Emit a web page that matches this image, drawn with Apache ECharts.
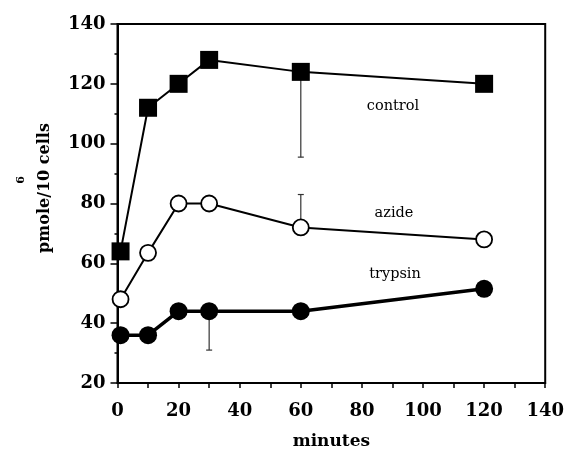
<!DOCTYPE html>
<html>
<head>
<meta charset="utf-8">
<script src="https://cdn.jsdelivr.net/npm/echarts@6/dist/echarts.min.js"></script>
<style>
  html, body { margin: 0; padding: 0; background: #fff; }
  #chart { width: 567px; height: 455px; }
</style>
</head>
<body>
<div id="chart"></div>
<script>
// Time points (minutes)
var minutes = [1, 10, 20, 30, 60, 120];

// Binding, pmole / 10^6 cells
var control = [64, 112, 120, 128, 124, 120];
var azide   = [48, 63.5, 80, 80, 72, 68];
var trypsin = [36, 36, 44, 44, 44, 51.5];

// Error bars: [minute, mean, bar end]
var controlErr = [[60, 124, 95.5]];
var azideErr   = [[60, 72, 83]];
var trypsinErr = [[30, 44, 31]];

var xTicks = [0, 20, 40, 60, 80, 100, 120, 140];
var yTicks = [20, 40, 60, 80, 100, 120, 140];

function pairs(xs, ys) {
  return xs.map(function (x, i) { return [x, ys[i]]; });
}

var SERIF = '"DejaVu Serif", serif';

function errorBars(data) {
  return {
    type: 'custom',
    z: 1,
    silent: true,
    data: data,
    renderItem: function (params, api) {
      var p0 = api.coord([api.value(0), api.value(1)]);
      var p1 = api.coord([api.value(0), api.value(2)]);
      var cap = 3;
      return {
        type: 'group',
        children: [
          { type: 'line', shape: { x1: p0[0], y1: p0[1], x2: p1[0], y2: p1[1] },
            style: { stroke: '#333', lineWidth: 1.2 } },
          { type: 'line', shape: { x1: p1[0] - cap, y1: p1[1], x2: p1[0] + cap, y2: p1[1] },
            style: { stroke: '#333', lineWidth: 1.2 } }
        ]
      };
    }
  };
}

var chart = echarts.init(document.getElementById('chart'), null, { renderer: 'canvas' });

chart.setOption({
  animation: false,
  backgroundColor: '#fff',
  grid: {
    left: 117.5, right: 19.5, top: 24, bottom: 66.5,
    show: true, borderColor: '#000', borderWidth: 2, backgroundColor: 'transparent'
  },
  xAxis: {
    type: 'value',
    min: xTicks[0], max: xTicks[xTicks.length - 1], interval: 20,
    name: 'minutes', nameLocation: 'middle', nameGap: 50,
    nameTextStyle: { fontFamily: SERIF, fontWeight: 'bold', fontSize: 17, color: '#000' },
    axisLine: { show: true, lineStyle: { color: '#000', width: 2 } },
    axisTick: { show: true, length: 5, lineStyle: { color: '#000', width: 1.5 } },
    minorTick: { show: true, splitNumber: 2, length: 5, lineStyle: { color: '#000', width: 1.5 } },
    axisLabel: { fontFamily: SERIF, fontWeight: 'bold', fontSize: 18, color: '#000', margin: 19 },
    splitLine: { show: false }
  },
  yAxis: {
    type: 'value',
    min: yTicks[0], max: yTicks[yTicks.length - 1], interval: 20,
    axisLine: { show: true, lineStyle: { color: '#000', width: 2 } },
    axisTick: { show: true, length: 7, lineStyle: { color: '#000', width: 1.5 } },
    minorTick: { show: true, splitNumber: 2, length: 3, lineStyle: { color: '#000', width: 1.5 } },
    axisLabel: { fontFamily: SERIF, fontWeight: 'bold', fontSize: 18, color: '#000', margin: 12 },
    splitLine: { show: false }
  },
  graphic: [
    { type: 'text', x: 45, y: 188, rotation: Math.PI / 2,
      style: { text: 'pmole/10 cells', font: 'bold 16px ' + SERIF, fill: '#000',
               align: 'center', verticalAlign: 'middle' } },
    { type: 'text', x: 21, y: 180, rotation: Math.PI / 2,
      style: { text: '6', font: 'bold 11px ' + SERIF, fill: '#000',
               align: 'center', verticalAlign: 'middle' } },
    { type: 'text', x: 393, y: 106,
      style: { text: 'control', font: '14.5px ' + SERIF, fill: '#000',
               align: 'center', verticalAlign: 'middle' } },
    { type: 'text', x: 394, y: 213,
      style: { text: 'azide', font: '14.5px ' + SERIF, fill: '#000',
               align: 'center', verticalAlign: 'middle' } },
    { type: 'text', x: 395, y: 274,
      style: { text: 'trypsin', font: '14.5px ' + SERIF, fill: '#000',
               align: 'center', verticalAlign: 'middle' } }
  ],
  series: [
    errorBars(controlErr),
    errorBars(azideErr),
    errorBars(trypsinErr),
    {
      name: 'control', type: 'line', z: 3,
      data: pairs(minutes, control),
      symbol: 'rect', symbolSize: 18, showAllSymbol: true,
      lineStyle: { color: '#000', width: 2 },
      itemStyle: { color: '#000', borderColor: '#000', borderWidth: 0 }
    },
    {
      name: 'azide', type: 'line', z: 3,
      data: pairs(minutes, azide),
      symbol: 'circle', symbolSize: 16, showAllSymbol: true,
      lineStyle: { color: '#000', width: 2 },
      itemStyle: { color: '#fff', borderColor: '#000', borderWidth: 1.8 }
    },
    {
      name: 'trypsin', type: 'line', z: 3,
      data: pairs(minutes, trypsin),
      symbol: 'circle', symbolSize: 18, showAllSymbol: true,
      lineStyle: { color: '#000', width: 3.5 },
      itemStyle: { color: '#000', borderColor: '#000', borderWidth: 0 }
    }
  ]
});
</script>
</body>
</html>
